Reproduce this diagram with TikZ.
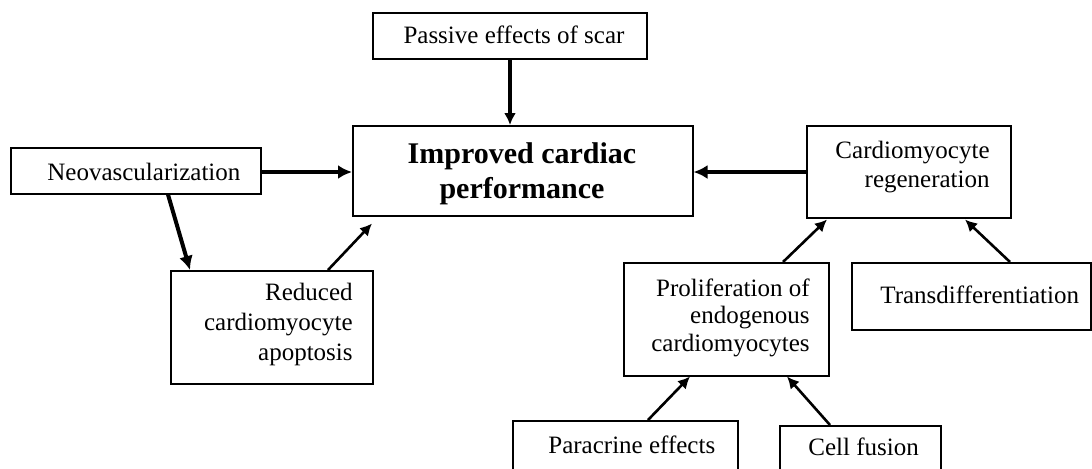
\documentclass[tikz,border=0pt]{standalone}
\usepackage{fontspec}
\setmainfont{Liberation Serif}
\usetikzlibrary{calc,arrows.meta}
\begin{document}
\begin{tikzpicture}[x=0.5pt,y=-0.5pt,
  box/.style={draw,line width=0.75pt,inner sep=0pt,anchor=north west},
  txt/.style={inner sep=0pt,font=\fontsize{12.5}{15}\selectfont},
  arr/.style={line width=1.3pt,-{Latex[length=6pt,width=6pt]}},
  tharr/.style={line width=2.2pt,-{Latex[length=7pt,width=7pt]}}]
\useasboundingbox (0,0) rectangle (1092,468);
\clip (0,0) rectangle (1092,468);
% boxes
\node[box,minimum width=137pt,minimum height=23pt] (pas) at (372,12) {};
\node[box,minimum width=170pt,minimum height=45pt] (imp) at (352,125) {};
\node[box,minimum width=125pt,minimum height=23pt] (neo) at (10,147) {};
\node[box,minimum width=101pt,minimum height=56.5pt] (red) at (170,270) {};
\node[box,minimum width=102pt,minimum height=46pt] (reg) at (806,125) {};
\node[box,minimum width=102.5pt,minimum height=56.5pt] (pro) at (623,262) {};
\node[box,minimum width=119.5pt,minimum height=33.5pt] (tra) at (851,262) {};
\node[box,minimum width=112.5pt,minimum height=30pt] (par) at (512,420) {};
\node[box,minimum width=80.5pt,minimum height=27.5pt] (cel) at (779,425) {};
% texts
\node[txt,anchor=base] (pasT) at (514,43) {Passive effects of scar};
\node[txt,anchor=north,align=center,font=\fontsize{15}{17.5}\selectfont\bfseries] (impT) at (522,142) {Improved cardiac\\performance};
\node[txt,anchor=base west] (neoT) at (47,180) {Neovascularization};
\node[txt,anchor=north east,align=right] (redT) at (353,283) {Reduced\\cardiomyocyte\\apoptosis};
\node[txt,anchor=north east,align=right,font=\fontsize{12.5}{14.5}\selectfont] (regT) at (990,141) {Cardiomyocyte\\regeneration};
\node[txt,anchor=north east,align=right,font=\fontsize{12.5}{13.75}\selectfont] (proT) at (810,278) {Proliferation of\\endogenous\\cardiomyocytes};
\node[txt,anchor=base west] (traT) at (880,303) {Transdifferentiation};
\node[txt,anchor=base west] (parT) at (548,453) {Paracrine effects};
\node[txt,anchor=base west] (celT) at (808,455) {Cell fusion};
% arrows
\draw[arr,line width=1.6pt] ($(pas.south west)+(138,0)$) -- ($(imp.north west)+(158,0)$);
\draw[tharr] ($(neo.north east)+(0,25)$) -- ($(imp.north west)+(0,47)$);
\draw[tharr] ($(reg.north west)+(0,47)$) -- ($(imp.north east)+(0,47)$);
\draw[tharr,line width=2pt] ($(neo.south west)+(158,0)$) -- ($(red.north west)+(20,0)$);
\draw[arr] ($(red.north west)+(158,0)$) -- ($(imp.south west)+(20,7)$);
\draw[arr] ($(pro.north west)+(160,0)$) -- ($(reg.south west)+(21,1)$);
\draw[arr] ($(tra.north west)+(159,0)$) -- ($(reg.south west)+(159,1)$);
\draw[arr] ($(par.north west)+(136,0)$) -- ($(pro.south west)+(67,0)$);
\draw[arr] ($(cel.north west)+(51,0)$) -- ($(pro.south west)+(164,0)$);
\end{tikzpicture}
\end{document}
